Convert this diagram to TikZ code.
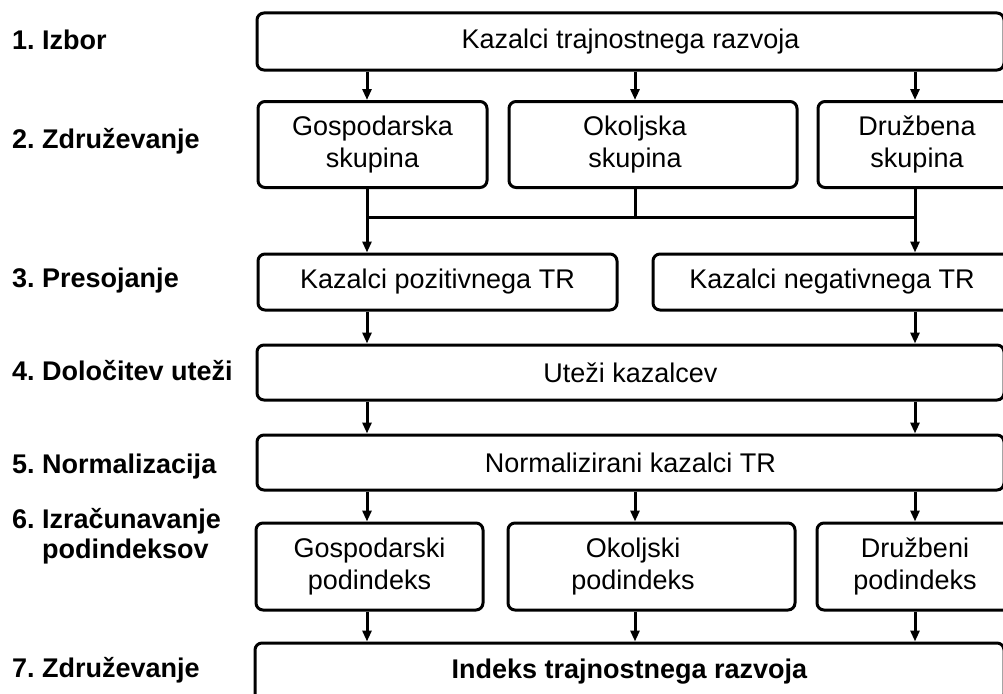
\documentclass[tikz,border=0pt]{standalone}
\usepackage{fontspec}
\setmainfont{Liberation Sans}
\usepackage{tikz}
\usetikzlibrary{positioning, arrows.meta}
\frenchspacing

\begin{document}
\begin{tikzpicture}[
    x=1pt, y=-1pt,
    every node/.style={font=\fontsize{27}{32}\selectfont},
    block/.style={draw, line width=3pt, rounded corners=7pt, align=center, inner sep=0pt},
    wide/.style ={block, minimum width=747pt, minimum height=57pt},
    tri/.style  ={block, minimum height=86pt},
    half/.style ={block, minimum height=56pt},
    txt/.style  ={align=center, inner sep=0pt},
    stage/.style={anchor=base west, align=left, inner sep=0pt, font=\fontsize{27}{30}\selectfont\bfseries},
    arr/.style  ={-{Triangle[length=11pt,width=9pt]}, line width=3pt},
    lin/.style  ={line width=3pt}
]
\useasboundingbox (0,0) rectangle (1003,693);
\clip (0,0) rectangle (1003,693);

% Columns of the connectors
\coordinate (c1) at (367,0);
\coordinate (c2) at (635,0);
\coordinate (c3) at (915,0);
\coordinate (j)  at (0,217);

% Stages
\node[stage] (s1) at (12,49)  {1. Izbor};
\node[stage] (s2) at (12,148) {2. Združevanje};
\node[stage] (s3) at (12,287) {3. Presojanje};
\node[stage] (s4) at (12,380) {4. Določitev uteži};
\node[stage] (s5) at (12,473) {5. Normalizacija};
\node[stage] (s6) at (12,558) {6. Izračunavanje\\\phantom{6. }podindeksov};
\node[stage] (s7) at (12,677) {7. Združevanje};

% 1. selection
\node[wide] (kaz) at (630.5,41.5) {Kazalci trajnostnega razvoja};

% 2. groups
\node[tri, minimum width=229pt] (gosS) at (372.5,144.5) {Gospodarska\\skupina};
\node[tri, minimum width=288pt] (okoS) at (653,144.5) {};
\node[txt] (okoSt) at (635,144.5) {Okoljska\\skupina};
\node[tri, minimum width=198pt] (druS) at (917,144.5) {Družbena\\skupina};

% 3. positive / negative
\node[half, minimum width=359pt] (poz) at (437.5,282) {Kazalci pozitivnega TR};
\node[half, minimum width=358pt] (neg) at (832,282) {Kazalci negativnega TR};

% 4. and 5.
\node[wide, minimum height=55pt] (ute) at (630.5,372.5) {Uteži kazalcev};
\node[wide, minimum height=55pt] (nor) at (630.5,462.5) {Normalizirani kazalci TR};

% 6. sub-indices
\node[tri, minimum width=227pt, minimum height=87pt] (gosP) at (369.5,566.5) {Gospodarski\\podindeks};
\node[tri, minimum width=287pt, minimum height=87pt] (okoP) at (651.5,566.5) {};
\node[txt] (okoPt) at (633,566.5) {Okoljski\\podindeks};
\node[tri, minimum width=196pt, minimum height=87pt] (druP) at (915,566.5) {Družbeni\\podindeks};

% 7. index
\node[wide, minimum width=749pt, minimum height=58pt] (idx) at (629.5,672) {\textbf{Indeks trajnostnega razvoja}};

% Arrows
\foreach \c/\b in {c1/gosS, c2/okoS, c3/druS}
    \draw[arr] (kaz.south -| \c) -- (\b.north -| \c);
\draw[lin] (j -| c1) -- (j -| c3);
\draw[lin] (okoS.south -| c2) -- (j -| c2);
\draw[arr] (gosS.south -| c1) -- (poz.north -| c1);
\draw[arr] (druS.south -| c3) -- (neg.north -| c3);
\draw[arr] (poz.south -| c1) -- (ute.north -| c1);
\draw[arr] (neg.south -| c3) -- (ute.north -| c3);
\draw[arr] (ute.south -| c1) -- (nor.north -| c1);
\draw[arr] (ute.south -| c3) -- (nor.north -| c3);
\foreach \c/\b in {c1/gosP, c2/okoP, c3/druP} {
    \draw[arr] (nor.south -| \c) -- (\b.north -| \c);
    \draw[arr] (\b.south -| \c) -- (idx.north -| \c);
}
\end{tikzpicture}
\end{document}
